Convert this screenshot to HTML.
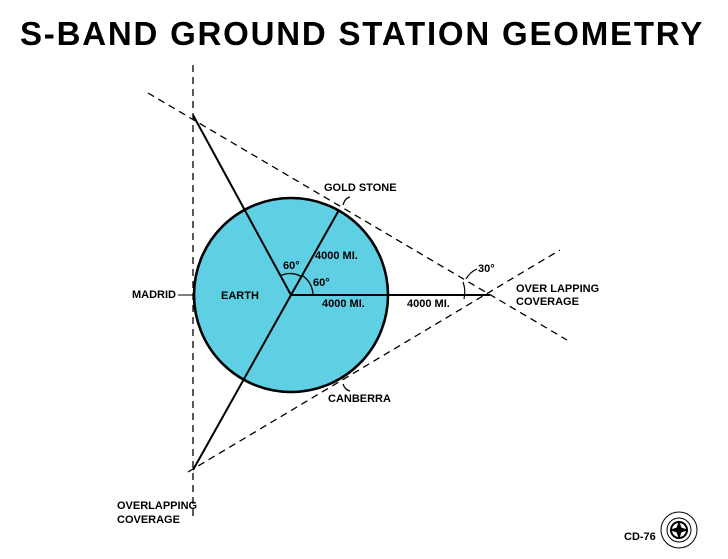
<!DOCTYPE html>
<html><head><style>
body{margin:0;background:#fff;width:728px;height:559px;overflow:hidden}
svg{display:block}
text{font-family:"Liberation Sans",sans-serif;fill:#000}
</style></head><body>
<svg width="728" height="559" viewBox="0 0 728 559">
<text x="362" y="45" text-anchor="middle" font-size="33" font-weight="bold" letter-spacing="1.8">S-BAND  GROUND  STATION  GEOMETRY</text>
<circle cx="291" cy="295" r="97" fill="#5fcfe3" stroke="#000" stroke-width="2.6"/>
<g stroke="#000" stroke-width="1.3" stroke-dasharray="7,5" fill="none">
<line x1="193" y1="65" x2="193" y2="518"/>
<line x1="148" y1="93" x2="567" y2="340"/>
<line x1="188" y1="472" x2="560" y2="250"/>
</g>
<g stroke="#000" stroke-width="2" fill="none">
<line x1="291" y1="295" x2="193" y2="115"/>
<line x1="291" y1="295" x2="339" y2="210"/>
<line x1="291" y1="295" x2="490" y2="295"/>
<line x1="291" y1="295" x2="193" y2="470"/>
<path d="M280 276 A22 22 0 0 1 302 277" stroke-width="1.3"/>
<path d="M303 276 A24 24 0 0 1 313 295" stroke-width="1.3"/>
<path d="M463 282 Q466 290 464 299" stroke-width="1.2"/>
<path d="M343 205 Q345 198 350 197" stroke-width="1.2"/>
<path d="M343 384 Q345 390 350 391" stroke-width="1.2"/>
<path d="M466 279 Q470 272 477 269" stroke-width="1.2"/>
<line x1="178" y1="295" x2="193" y2="295" stroke-width="1"/>
</g>
<g font-size="11" font-weight="bold">
<text x="324" y="191">GOLD STONE</text>
<text x="315" y="259">4000 MI.</text>
<text x="283" y="269">60°</text>
<text x="313" y="286">60°</text>
<text x="221" y="299">EARTH</text>
<text x="322" y="307">4000 MI.</text>
<text x="407" y="307">4000 MI.</text>
<text x="478" y="272">30°</text>
<text x="516" y="292">OVER LAPPING</text>
<text x="516" y="305">COVERAGE</text>
<text x="132" y="298">MADRID</text>
<text x="328" y="402">CANBERRA</text>
<text x="117" y="509">OVERLAPPING</text>
<text x="117" y="523">COVERAGE</text>
<text x="624" y="540">CD-76</text>
</g>
<g fill="none" stroke="#000">
<circle cx="679" cy="530" r="18" stroke-width="1"/>
<circle cx="679" cy="530" r="12" stroke-width="1"/>
<circle cx="679" cy="530" r="8" stroke-width="2"/>
<polygon points="679,522 681,528 687,530 681,532 679,538 677,532 671,530 677,528" fill="#000"/>
</g>
</svg>
</body></html>
